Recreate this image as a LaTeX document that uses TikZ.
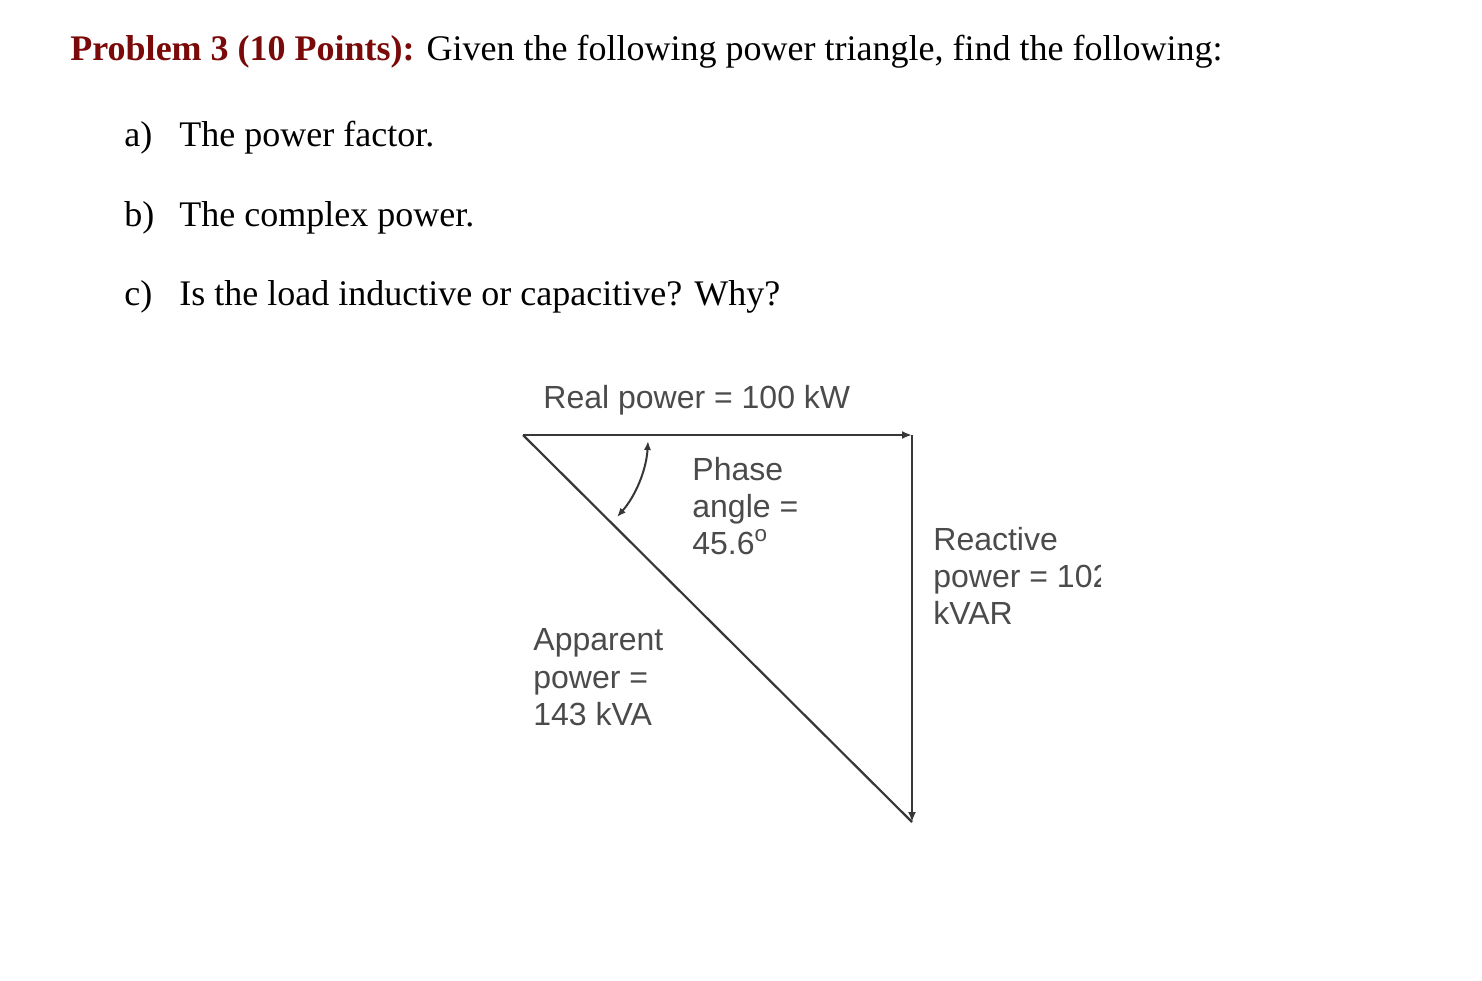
\documentclass[tikz,border=0pt]{standalone}
\usepackage{fontspec}
\setmainfont{Liberation Serif}
\newfontfamily\arialf{Liberation Sans}
\usetikzlibrary{arrows.meta}
\definecolor{titlered}{RGB}{122,10,10}
\definecolor{linegray}{RGB}{55,55,55}
\definecolor{textgray}{RGB}{75,75,75}
\begin{document}
\begin{tikzpicture}[x=0.5pt,y=-0.5pt,
  serif/.style={anchor=base west,inner sep=0pt,font=\fontsize{18}{21}\selectfont},
  lbl/.style={anchor=base west,inner sep=0pt,text=textgray,font=\arialf\fontsize{16}{18}\selectfont},
  vec/.style={draw=linegray,line width=1.1pt},
  tip/.style={-{Latex[length=5pt,width=4pt]}}
]
\useasboundingbox (0,0) rectangle (1482,980);
% title and questions
\node[serif] (title) at (70,60) {\textcolor{titlered}{\textbf{Problem 3 (10 Points):}} Given the following power triangle, find the following:};
\node[serif] (qa) at (124,146) {a)};
\node[serif] (qat) at (179,146) {The power factor.};
\node[serif] (qb) at (124,226) {b)};
\node[serif] (qbt) at (179,226) {The complex power.};
\node[serif] (qc) at (124,305) {c)};
\node[serif] (qct) at (179,305) {Is the load inductive or capacitive? Why?};
% triangle
\coordinate (A) at (523,435);
\coordinate (B) at (912,435);
\coordinate (C) at (912,822);
\draw[vec,tip] (A) -- (B);
\draw[vec,tip] (B) -- (C);
\draw[vec] (A) -- (C);
% angle arc
\coordinate (a1) at (648,441);
\coordinate (a2) at (617,517);
\draw[draw=linegray,line width=1pt,{Latex[length=4.5pt,width=3.6pt]}-{Latex[length=4.5pt,width=3.6pt]}]
  (a1) .. controls (646.4,469.9) and (635.6,495.9) .. (a2);
% labels
\node[lbl] (real) at (543,408) {Real power = 100 kW};
\node[lbl] (ph1) at (692,480) {Phase};
\node[lbl] (ph2) at (692,517) {angle =};
\node[lbl] (ph3) at (692,554) {45.6\textsuperscript{o}};
\begin{scope}
\clip (925,500) rectangle (1100,640);
\node[lbl] (re1) at (933,550) {Reactive};
\node[lbl] (re2) at (933,587) {power = 102};
\node[lbl] (re3) at (933,624) {kVAR};
\end{scope}
\node[lbl] (ap1) at (533,650) {Apparent};
\node[lbl] (ap2) at (533,688) {power =};
\node[lbl] (ap3) at (533,725) {143 kVA};
\end{tikzpicture}
\end{document}
